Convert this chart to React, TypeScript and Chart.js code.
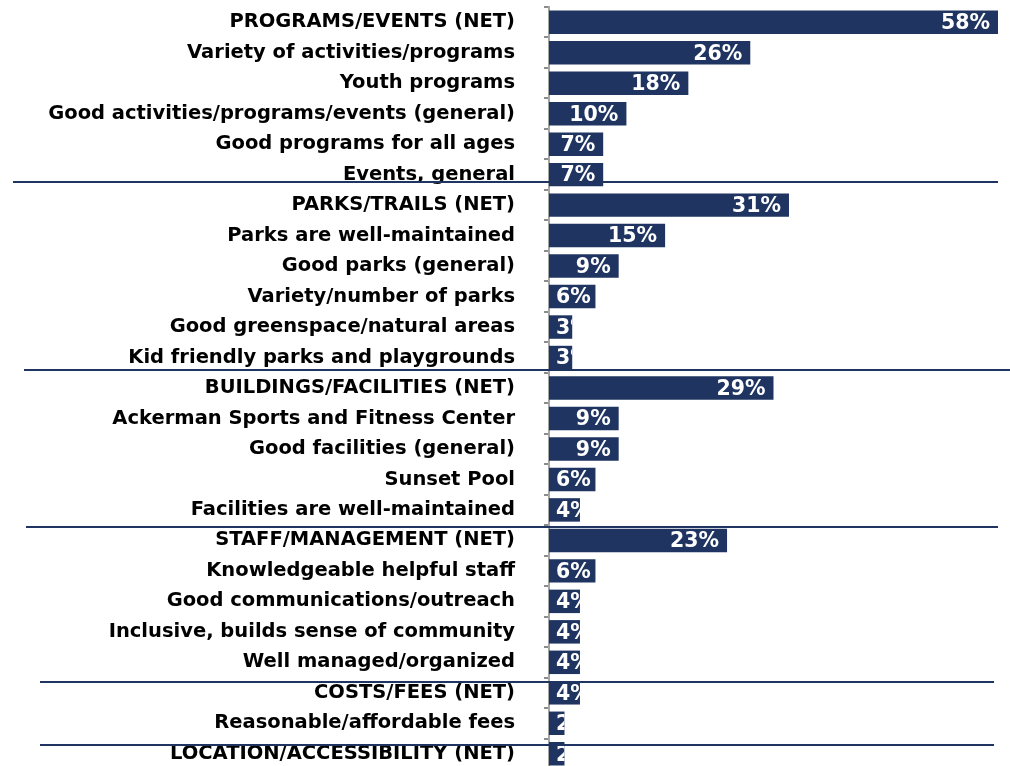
import React, { useEffect, useRef } from "react";
import { Chart, registerables } from "chart.js";

Chart.register(...registerables);

const categories: string[] = [
  "PROGRAMS/EVENTS (NET)",
  "Variety of activities/programs",
  "Youth programs",
  "Good activities/programs/events (general)",
  "Good programs for all ages",
  "Events, general",
  "PARKS/TRAILS (NET)",
  "Parks are well-maintained",
  "Good parks (general)",
  "Variety/number of parks",
  "Good greenspace/natural areas",
  "Kid friendly parks and playgrounds",
  "BUILDINGS/FACILITIES (NET)",
  "Ackerman Sports and Fitness Center",
  "Good facilities (general)",
  "Sunset Pool",
  "Facilities are well-maintained",
  "STAFF/MANAGEMENT (NET)",
  "Knowledgeable helpful staff",
  "Good communications/outreach",
  "Inclusive, builds sense of community",
  "Well managed/organized",
  "COSTS/FEES (NET)",
  "Reasonable/affordable fees",
  "LOCATION/ACCESSIBILITY (NET)",
];

const values: number[] = [
  58, 26, 18, 10, 7, 7,
  31, 15, 9, 6, 3, 3,
  29, 9, 9, 6, 4,
  23, 6, 4, 4, 4,
  4, 2,
  2,
];

// Section separators: position in category units (between rows) and horizontal extent
const separatorPositions: number[] = [5.24, 11.41, 16.55, 21.65, 23.71];
const separatorExtents: [number, number][] = [
  [13, 998],
  [24, 1010],
  [26, 998],
  [40, 994],
  [40, 994],
];

const BAR_COLOR = "#1F3461";
const FONT_FAMILY = "'DejaVu Sans', Verdana, sans-serif";

const valueLabelPlugin = {
  id: "valueLabels",
  afterDatasetsDraw(chart: any) {
    const ctx = chart.ctx;
    const meta = chart.getDatasetMeta(0);
    ctx.save();
    ctx.font = `bold 20.5px ${FONT_FAMILY}`;
    ctx.fillStyle = "#FFFFFF";
    ctx.textBaseline = "middle";
    ctx.textAlign = "left";
    meta.data.forEach((bar: any, i: number) => {
      const { x, y, base, height } = bar.getProps(["x", "y", "base", "height"], true);
      const text = `${values[i]}%`;
      const w = ctx.measureText(text).width;
      const tx = Math.max(base + 7, x - 8 - w);
      ctx.save();
      ctx.beginPath();
      ctx.rect(base, y - height / 2, x - base, height);
      ctx.clip();
      ctx.fillText(text, tx, y + 1.5);
      ctx.restore();
    });
    ctx.restore();
  },
};

const separatorPlugin = {
  id: "separators",
  afterDraw(chart: any) {
    const ctx = chart.ctx;
    const yScale = chart.scales.y;
    ctx.save();
    ctx.strokeStyle = "#1F3461";
    ctx.lineWidth = 2;
    separatorPositions.forEach((p, i) => {
      const y = Math.round(yScale.getPixelForValue(p));
      const [x0, x1] = separatorExtents[i];
      ctx.beginPath();
      ctx.moveTo(x0, y);
      ctx.lineTo(x1, y);
      ctx.stroke();
    });
    ctx.restore();
  },
};

export default function App() {
  const canvasRef = useRef<HTMLCanvasElement | null>(null);

  useEffect(() => {
    if (!canvasRef.current) return;
    const chart = new Chart(canvasRef.current, {
      type: "bar",
      data: {
        labels: categories,
        datasets: [
          {
            data: values,
            backgroundColor: BAR_COLOR,
            borderWidth: 0,
            barPercentage: 0.77,
            categoryPercentage: 1,
          },
        ],
      },
      options: {
        indexAxis: "y",
        animation: false,
        responsive: false,
        maintainAspectRatio: false,
        layout: { padding: { top: 7, right: 12, bottom: 0, left: 0 } },
        plugins: {
          legend: { display: false },
          tooltip: { enabled: false },
          title: { display: false },
        },
        scales: {
          x: {
            display: false,
            min: 0,
            max: 58,
          },
          y: {
            afterFit: (scale: any) => {
              scale.width = 549;
              scale.paddingTop = 0;
              scale.paddingBottom = 0;
            },
            grid: {
              display: true,
              offset: true,
              drawOnChartArea: false,
              drawTicks: true,
              tickLength: 5,
              color: "#8C8C8C",
              lineWidth: 2,
            },
            border: { display: true, color: "#A6A6A6", width: 2 },
            ticks: {
              color: "#000000",
              padding: 29,
              autoSkip: false,
              font: { family: FONT_FAMILY, size: 19.5, weight: "bold" },
            },
          },
        },
      },
      plugins: [valueLabelPlugin, separatorPlugin],
    });
    return () => chart.destroy();
  }, []);

  return (
    <div
      style={{
        position: "fixed",
        top: 0,
        left: 0,
        width: 1010,
        height: 766,
        overflow: "hidden",
        background: "#FFFFFF",
      }}
    >
      <canvas ref={canvasRef} width={1010} height={769} style={{ display: "block" }} />
    </div>
  );
}
